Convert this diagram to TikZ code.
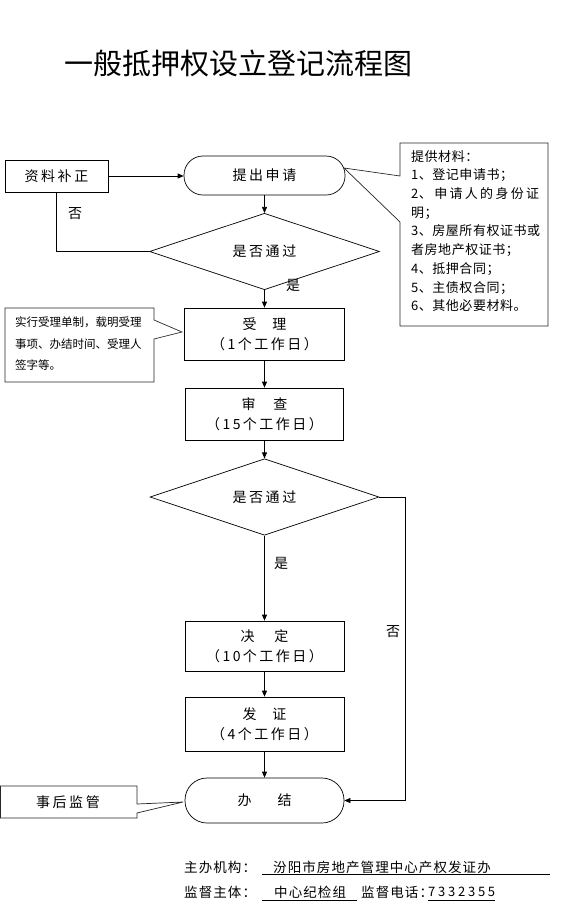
\documentclass[tikz,border=0pt]{standalone}
\usepackage{fontspec}
\setmainfont{Noto Sans CJK SC}
\usetikzlibrary{arrows.meta,shapes.geometric}
\tikzset{
  ln/.style={line width=0.7pt, draw=black},
  arr/.style={ln, -{Triangle[length=6pt,width=5pt]}},
  txt14/.style={font=\fontsize{14}{20}\selectfont},
  spaced/.style={font=\fontsize{14}{20}\selectfont\addfontfeatures{LetterSpace=18}},
  boxnode/.style={ln, rectangle, inner sep=0pt, align=center, spaced},
  termnode/.style={boxnode, rounded corners=19pt},
  decision/.style={ln, diamond, inner sep=0pt, spaced},
  lbl/.style={inner sep=0pt, txt14},
  callout/.style={line width=0.7pt, draw=black!85},
  foot/.style={anchor=west, inner sep=0pt, font=\fontsize{13.5}{20}\selectfont\addfontfeatures{LetterSpace=8}},
}
\begin{document}
\begin{tikzpicture}[x=1pt,y=-1pt]
\fill[white] (0,0) rectangle (561,905);
\useasboundingbox (0,0) rectangle (561,905);

% title
\node[inner sep=0pt, font=\fontsize{29}{32}\selectfont] (title) at (238,63) {一般抵押权设立登记流程图};

% main nodes
\node[boxnode, minimum width=103pt, minimum height=32pt] (zl) at (56.5,176) {资料补正};
\node[termnode, minimum width=161pt, minimum height=39pt] (tc) at (264.5,175.5) {提出申请};
\node[decision, minimum width=230pt, minimum height=57pt] (d1) at (264.5,251.5) {是否通过};
\node[boxnode, minimum width=160pt, minimum height=52pt] (sl) at (264.5,334) {受\hspace{16pt}理\\（1\,个工作日）};
\node[boxnode, minimum width=158pt, minimum height=52pt] (sc) at (264.5,414) {审\hspace{18pt}查\\（15\,个工作日）};
\node[decision, minimum width=229pt, minimum height=58pt] (d2) at (264.5,497) {是否通过};
\node[boxnode, minimum width=159pt, minimum height=50pt] (jd) at (264.5,646) {决\hspace{20pt}定\\（10\,个工作日）};
\node[boxnode, minimum width=159pt, minimum height=54pt] (fz) at (264.5,724) {发\hspace{16pt}证\\（4\,个工作日）};
\node[termnode, rounded corners=22pt, minimum width=159pt, minimum height=45pt] (bj) at (264.5,800.5) {办\hspace{26pt}结};

% connectors
\draw[arr] (zl.east) -- (zl.east -| tc.west);
\draw[arr] (tc.south) -- (d1.north);
\draw[ln] (d1.west) -| (zl.south);
\draw[arr] (d1.south) -- (sl.north);
\draw[arr] (sl.south) -- (sc.north);
\draw[arr] (sc.south) -- (d2.north);
\draw[arr] (d2.south) -- (jd.north);
\draw[arr] (jd.south) -- (fz.north);
\draw[arr] (fz.south) -- (bj.north);
\coordinate (rt) at (405,497);
\draw[arr] (d2.east) -- (rt) |- (bj.east);

% branch labels
\node[lbl] (n1) at (75,214) {否};
\node[lbl] (y1) at (293,285) {是};
\node[lbl] (y2) at (281,563) {是};
\node[lbl] (n2) at (393,632) {否};

% right callout (materials)
\draw[callout, fill=white] (400,143) -- (548,143) -- (548,326) -- (400,326) -- (400,222) -- (344,168) -- (400,176) -- cycle;
\node[anchor=north west, inner sep=0pt, align=left, font=\fontsize{13}{18.7}\selectfont\addfontfeatures{LetterSpace=4}] (mat) at (411,150)
{提供材料：\\
1、登记申请书；\\
\makebox[128pt][s]{2、\hfil 申\hfil 请\hfil 人\hfil 的\hfil 身\hfil 份\hfil 证}\\
明；\\
3、房屋所有权证书或\\
者房地产权证书；\\
4、抵押合同；\\
5、主债权合同；\\
6、其他必要材料。};

% left callout (acceptance)
\draw[callout, fill=white] (5,308) -- (154,308) -- (154,320) -- (182,332) -- (154,339) -- (154,382) -- (5,382) -- cycle;
\node[anchor=north west, inner sep=0pt, align=left, font=\fontsize{11.5}{21.5}\selectfont] (acc) at (15,317)
{实行受理单制，载明受理\\事项、办结时间、受理人\\签字等。};

% bottom-left callout
\draw[callout, fill=white] (0.5,786) -- (137,786) -- (137,804) -- (183,802) -- (137,813) -- (137,818) -- (0.5,818) -- cycle;
\node[inner sep=0pt, spaced] (jg) at (68,802) {事后监管};

% footer
\node[foot] (f1a) at (184,867) {主办机构：};
\node[foot] (f1b) at (273,867) {汾阳市房地产管理中心产权发证办};
\draw[line width=0.7pt] (262,874.5) -- (550,874.5);
\node[foot] (f2a) at (184,892) {监督主体：};
\node[foot] (f2b) at (274,892) {中心纪检组};
\draw[line width=0.7pt] (262,900) -- (357,900);
\node[foot] (f2c) at (361,892) {监督电话：};
\node[anchor=west, inner sep=0pt, font=\fontsize{13}{20}\selectfont] (f2d) at (428,892) {\makebox[67pt][s]{7\hfil 3\hfil 3\hfil 2\hfil 3\hfil 5\hfil 5}};
\draw[line width=0.7pt] (428,900) -- (495,900);
\end{tikzpicture}
\end{document}
